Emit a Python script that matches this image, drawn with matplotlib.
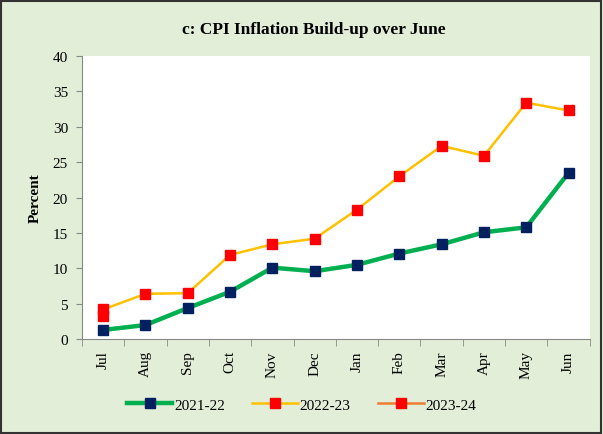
import matplotlib.pyplot as plt
from matplotlib.patches import Rectangle

months = ['Jul', 'Aug', 'Sep', 'Oct', 'Nov', 'Dec', 'Jan', 'Feb', 'Mar', 'Apr', 'May', 'Jun']
fy2122 = [1.3, 2.0, 4.4, 6.7, 10.1, 9.6, 10.5, 12.1, 13.4, 15.1, 15.8, 23.5]
fy2223 = [4.2, 6.4, 6.5, 11.9, 13.4, 14.2, 18.3, 23.0, 27.3, 25.9, 33.4, 32.3]
fy2324 = [3.3]

plt.rcParams['font.family'] = 'Liberation Serif'

bg = '#E2EED8'
fig = plt.figure(figsize=(6.03, 4.35), dpi=100, facecolor=bg)
fig.patches.append(Rectangle((0.002, 0.003), 0.995, 0.993, transform=fig.transFigure,
                             fill=False, edgecolor='#333333', linewidth=1.5))
ax = fig.add_axes([0.136, 0.218, 0.842, 0.651])
ax.set_facecolor('white')

x = list(range(len(months)))
ax.plot(x, fy2122, color='#00B050', linewidth=3.2, marker='s', markersize=7,
        markerfacecolor='#002060', markeredgecolor='#002060', label='2021-22', zorder=3)
ax.plot(x, fy2223, color='#FFC000', linewidth=1.8, marker='s', markersize=7,
        markerfacecolor='#FF0000', markeredgecolor='#FF0000', label='2022-23', zorder=3)
ax.plot(x[:len(fy2324)], fy2324, color='#ED7D31', linewidth=1.8, marker='s', markersize=7,
        markerfacecolor='#FF0000', markeredgecolor='#FF0000', label='2023-24', zorder=4)

ax.set_xlim(-0.5, len(months) - 0.5)
ax.set_ylim(0, 40)
ax.set_yticks(range(0, 41, 5))
ax.set_xticks(x)
ax.set_xticklabels(months, rotation=90, fontsize=11)
ax.set_xticks([i - 0.5 for i in range(len(months) + 1)], minor=True)
ax.tick_params(axis='x', which='major', length=0, pad=8)
ax.tick_params(axis='x', which='minor', length=5, color='#888888')
ax.tick_params(axis='y', labelsize=11, length=4, color='#888888', pad=6)
for s in ['top', 'right']:
    ax.spines[s].set_visible(False)
for s in ['left', 'bottom']:
    ax.spines[s].set_color('#888888')

ax.set_ylabel('Percent', fontsize=11, fontweight='bold', labelpad=8)
fig.text(0.52, 0.93, 'c: CPI Inflation Build-up over June', ha='center', va='center',
         fontsize=12.5, fontweight='bold')

fig.legend(loc='center', bbox_to_anchor=(0.5, 0.067), ncol=3, frameon=False,
           fontsize=11, handlelength=3.0, handletextpad=0.1, columnspacing=1.8,
           markerscale=1.0)

fig.savefig('out.png', dpi=100, facecolor=bg)
